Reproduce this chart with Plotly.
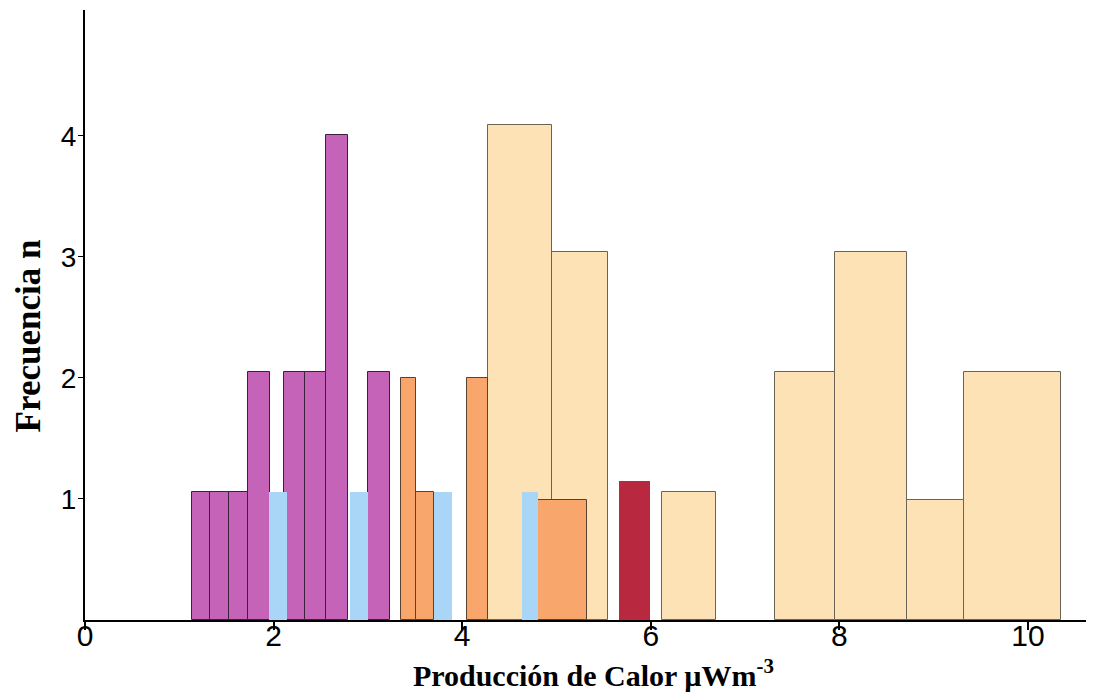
import plotly.graph_objects as go

# bin edges (left, right) and bar heights
purple_left = [1.13, 1.33, 1.53, 1.73, 2.11, 2.33, 2.56, 3.00]
purple_right = [1.33, 1.53, 1.73, 1.96, 2.33, 2.56, 2.79, 3.23]
purple_n = [1.06, 1.06, 1.06, 2.05, 2.05, 2.05, 4.01, 2.05]

blue_left = [1.95, 2.81, 3.70, 4.63]
blue_right = [2.14, 3.00, 3.89, 4.80]
blue_n = [1.06, 1.06, 1.06, 1.06]

orange_left = [3.35, 3.51, 4.05, 4.80]
orange_right = [3.51, 3.70, 4.27, 5.32]
orange_n = [2.00, 1.06, 2.00, 0.99]

red_left = [5.66]
red_right = [5.99]
red_n = [1.15]

cream_left = [4.27, 4.95, 6.12, 7.32, 7.95, 8.72, 9.32]
cream_right = [4.95, 5.55, 6.69, 7.95, 8.72, 9.32, 10.35]
cream_n = [4.09, 3.04, 1.06, 2.05, 3.04, 0.99, 2.05]

x_ticks = [0, 2, 4, 6, 8, 10]
y_ticks = [1, 2, 3, 4]


def bars(left, right, n, color, line_color, line_width):
    """one histogram group drawn as bars of given bin edges"""
    centers = [(a + b) / 2 for a, b in zip(left, right)]
    widths = [b - a for a, b in zip(left, right)]
    return go.Bar(
        x=centers, y=n, width=widths,
        marker=dict(color=color, line=dict(color=line_color, width=line_width)),
        showlegend=False, hoverinfo="skip",
    )


fig = go.Figure()
fig.add_trace(bars(cream_left, cream_right, cream_n, "#FDE2B6", "#6b6355", 1))
fig.add_trace(bars(orange_left, orange_right, orange_n, "#F9A66C", "#5a4030", 1))
fig.add_trace(bars(purple_left, purple_right, purple_n, "#C463B8", "#3b2238", 1))
fig.add_trace(bars(blue_left, blue_right, blue_n, "#A9D5F6", "#A9D5F6", 0))
fig.add_trace(bars(red_left, red_right, red_n, "#B8293F", "#B8293F", 0))

fig.update_layout(
    width=1094, height=700,
    margin=dict(l=77, r=0, t=2, b=88),  ##page body adds 8px, so margins are shifted by that
    plot_bgcolor="white", paper_bgcolor="white",
    barmode="overlay", bargap=0,
)
fig.update_xaxes(
    range=[0, 10.785], tickvals=x_ticks, ticktext=[str(v) for v in x_ticks],
    automargin=False,
    showline=True, linecolor="black", linewidth=2, showgrid=False, zeroline=False,
    ticks="outside", ticklen=8, tickwidth=1.5, tickcolor="black",
    ticklabelstandoff=-20,
    tickfont=dict(family="Liberation Sans, Arial", size=30, color="black"),
    title=dict(text="<b>Producción de Calor µWm<sup>-3</sup></b>",
               font=dict(family="Liberation Serif, Times New Roman, serif", size=30, color="black"),
               standoff=14),
)
fig.update_yaxes(
    range=[0, 5.04], tickvals=y_ticks, ticktext=[str(v) for v in y_ticks],
    automargin=False,
    showline=True, linecolor="black", linewidth=2, showgrid=False, zeroline=False,
    ticks="outside", ticklen=5, tickwidth=1, tickcolor="black",
    ticklabelstandoff=-4,
    tickfont=dict(family="Liberation Sans, Arial", size=28, color="black"),
)
# y title as annotation so it can sit a bit below the axis middle like the reference
fig.add_annotation(
    text="<b>Frecuencia n</b>", textangle=-90, showarrow=False,
    xref="paper", yref="paper", x=-0.056, y=0.465, xanchor="center", yanchor="middle",
    font=dict(family="Liberation Serif, Times New Roman, serif", size=35, color="black"),
)

fig.write_html("out.html")
